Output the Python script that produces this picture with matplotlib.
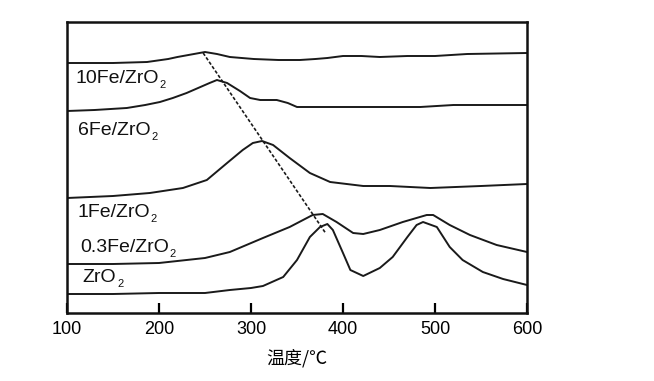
import matplotlib
matplotlib.use("Agg")
import matplotlib.pyplot as plt

plt.rcParams['font.family'] = ['Liberation Sans', 'DejaVu Sans']

# ---- data (temperature in degC, signal in arbitrary units, curves offset) ----
t_zro2 = [100, 150, 200, 250, 277, 300, 313, 335, 350, 364, 375, 383, 389, 400, 408,
          422, 440, 454, 470, 480, 487, 502, 516, 530, 552, 574, 600]
y_zro2 = [19, 19, 20, 20, 23, 25, 27, 36, 53, 76, 86, 89, 83, 60, 43,
          37, 45, 56, 76, 88, 91, 86, 66, 53, 41, 34, 28]

t_03fe = [100, 150, 200, 250, 277, 313, 342, 367, 378, 393, 411, 422, 440, 465,
          491, 498, 516, 538, 567, 600]
y_03fe = [49, 49, 50, 55, 61, 75, 86, 98, 99, 91, 80, 79, 83, 91,
          98, 98, 88, 78, 68, 61]

t_1fe = [100, 150, 190, 226, 252, 274, 291, 302, 312, 324, 342, 364, 386, 422, 451,
         495, 550, 600]
y_1fe = [115, 117, 120, 125, 133, 150, 163, 170, 172, 168, 155, 140, 131, 127, 127,
         125, 127, 129]

t_6fe = [100, 130, 165, 185, 201, 215, 230, 245, 255, 263, 274, 288, 299, 310, 328,
         340, 350, 360, 400, 484, 520, 600]
y_6fe = [202, 203, 205, 208, 211, 215, 220, 226, 230, 233, 230, 222, 215, 213, 213,
         210, 206, 206, 206, 206, 208, 208]

t_10fe = [100, 150, 187, 210, 220, 238, 250, 263, 277, 303, 330, 353, 370, 383, 400,
          420, 440, 470, 500, 535, 600]
y_10fe = [250, 250, 251, 254, 256, 259, 261, 259, 256, 254, 253, 253, 254, 255, 257,
          257, 256, 257, 257, 259, 260]

t_guide = [248, 381]
y_guide = [260, 80]

label_main = ['10Fe/ZrO', '6Fe/ZrO', '1Fe/ZrO', '0.3Fe/ZrO', 'ZrO']
label_sub = ['2', '2', '2', '2', '2']
xticks = [100, 200, 300, 400, 500, 600]
xlabel = '温度/℃'

fig = plt.figure(figsize=(6.54, 3.81), dpi=100)
ax = fig.add_axes([67/654, 68/381, 460/654, 291/381])

lc = '#1a1a1a'
for t, y in [(t_zro2, y_zro2), (t_03fe, y_03fe), (t_1fe, y_1fe), (t_6fe, y_6fe), (t_10fe, y_10fe)]:
    ax.plot(t, y, color=lc, lw=1.4, solid_joinstyle='round')
ax.plot(t_guide, y_guide, color=lc, lw=1.2, linestyle=(0, (2.0, 1.2)))

label_pos = [(108.7, 230), (112, 178), (110.9, 96), (114, 61), (117, 31)]
for lab, sub, (x, y) in zip(label_main, label_sub, label_pos):
    txt = ax.text(x, y, lab, fontsize=14, va='baseline', ha='left', color='#111111')
    ax.annotate(sub, xy=(1, 0), xycoords=txt, xytext=(0.8, -2.2), textcoords='offset points',
                fontsize=8, va='bottom', ha='left', color='#111111')

ax.set_xlim(100, 600)
ax.set_ylim(0, 291)
ax.set_xticks(xticks)
ax.set_xticklabels([str(v) for v in xticks], fontsize=13)
ax.set_yticks([])
ax.tick_params(axis='x', direction='in', length=7, width=1.6, pad=6)
for s in ax.spines.values():
    s.set_linewidth(1.8)
    s.set_color('#111111')
ax.set_xlabel(xlabel, fontsize=13, family=['Noto Sans CJK SC', 'DejaVu Sans'], labelpad=8)

fig.savefig('out.png', dpi=100)
